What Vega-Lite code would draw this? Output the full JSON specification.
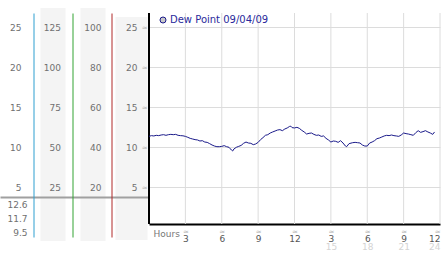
{
  "$schema": "https://vega.github.io/schema/vega-lite/v6.json",
  "width": 291,
  "height": 224,
  "autosize": {"type": "none"},
  "padding": {"left": 149, "top": 13, "right": 2, "bottom": 16},
  "background": "white",
  "datasets": {
    "dew": [
      {"h":0.0,"v":11.33},{"h":0.2,"v":11.42},{"h":0.4,"v":11.38},{"h":0.6,"v":11.46},{"h":0.8,"v":11.42},
      {"h":1.0,"v":11.5},{"h":1.2,"v":11.54},{"h":1.4,"v":11.46},{"h":1.6,"v":11.54},{"h":1.8,"v":11.58},
      {"h":2.0,"v":11.54},{"h":2.2,"v":11.58},{"h":2.4,"v":11.46},{"h":2.6,"v":11.42},{"h":2.8,"v":11.4},
      {"h":3.0,"v":11.33},{"h":3.2,"v":11.21},{"h":3.4,"v":11.08},{"h":3.6,"v":11.0},{"h":3.8,"v":10.92},
      {"h":4.0,"v":10.88},{"h":4.2,"v":10.75},{"h":4.4,"v":10.79},{"h":4.6,"v":10.62},{"h":4.8,"v":10.58},
      {"h":5.0,"v":10.42},{"h":5.2,"v":10.25},{"h":5.4,"v":10.12},{"h":5.6,"v":10.04},{"h":5.8,"v":10.04},
      {"h":6.0,"v":10.08},{"h":6.2,"v":10.17},{"h":6.4,"v":10.04},{"h":6.6,"v":9.96},{"h":6.8,"v":9.62},
      {"h":6.9,"v":9.5},{"h":7.0,"v":9.75},{"h":7.2,"v":9.96},{"h":7.4,"v":10.08},{"h":7.6,"v":10.2},
      {"h":7.8,"v":10.46},{"h":8.0,"v":10.62},{"h":8.2,"v":10.5},{"h":8.4,"v":10.46},{"h":8.6,"v":10.29},
      {"h":8.8,"v":10.38},{"h":9.0,"v":10.58},{"h":9.2,"v":10.92},{"h":9.4,"v":11.17},{"h":9.6,"v":11.46},
      {"h":9.8,"v":11.54},{"h":10.0,"v":11.75},{"h":10.2,"v":11.88},{"h":10.4,"v":12.0},{"h":10.6,"v":12.12},
      {"h":10.8,"v":12.17},{"h":11.0,"v":12.04},{"h":11.2,"v":12.25},{"h":11.4,"v":12.38},{"h":11.6,"v":12.58},
      {"h":11.7,"v":12.6},{"h":11.8,"v":12.42},{"h":12.0,"v":12.38},{"h":12.2,"v":12.46},{"h":12.4,"v":12.33},
      {"h":12.6,"v":12.08},{"h":12.8,"v":11.88},{"h":13.0,"v":11.62},{"h":13.2,"v":11.71},{"h":13.4,"v":11.75},
      {"h":13.6,"v":11.58},{"h":13.8,"v":11.46},{"h":14.0,"v":11.5},{"h":14.2,"v":11.33},{"h":14.4,"v":11.38},
      {"h":14.6,"v":11.08},{"h":14.8,"v":10.88},{"h":15.0,"v":10.62},{"h":15.2,"v":10.75},{"h":15.4,"v":10.71},
      {"h":15.6,"v":10.58},{"h":15.8,"v":10.79},{"h":16.0,"v":10.5},{"h":16.2,"v":10.12},{"h":16.3,"v":10.04},
      {"h":16.5,"v":10.42},{"h":16.8,"v":10.54},{"h":17.0,"v":10.58},{"h":17.2,"v":10.54},{"h":17.4,"v":10.5},
      {"h":17.6,"v":10.25},{"h":17.8,"v":10.12},{"h":18.0,"v":10.12},{"h":18.2,"v":10.5},{"h":18.4,"v":10.62},
      {"h":18.6,"v":10.79},{"h":18.8,"v":11.04},{"h":19.0,"v":11.12},{"h":19.2,"v":11.25},{"h":19.4,"v":11.38},
      {"h":19.6,"v":11.46},{"h":19.8,"v":11.42},{"h":20.0,"v":11.5},{"h":20.2,"v":11.42},{"h":20.4,"v":11.38},
      {"h":20.6,"v":11.33},{"h":20.8,"v":11.5},{"h":21.0,"v":11.75},{"h":21.2,"v":11.67},{"h":21.4,"v":11.62},
      {"h":21.6,"v":11.54},{"h":21.8,"v":11.46},{"h":22.0,"v":11.79},{"h":22.2,"v":12.04},{"h":22.4,"v":11.83},
      {"h":22.6,"v":11.92},{"h":22.8,"v":12.04},{"h":23.0,"v":11.88},{"h":23.2,"v":11.75},{"h":23.4,"v":11.58},
      {"h":23.55,"v":11.88}
    ],
    "grid": [{"h":3},{"h":6},{"h":9},{"h":12},{"h":15},{"h":18},{"h":21},{"h":24}]
  },
  "config": {
    "view": {"stroke": null},
    "axis": {"labelOverlap": false, "labelFont": "DejaVu Sans", "labelFontSize": 9, "labelColor": "#707070", "titleFont": "DejaVu Sans"},
    "legend": {
      "orient": "none", "legendX": 9, "legendY": 2, "padding": 0,
      "symbolType": "circle", "symbolSize": 36, "labelOffset": 2,
      "labelFont": "DejaVu Sans", "labelFontSize": 10, "labelColor": "#2a2a9c",
      "symbolFillColor": "#c8c8c8", "symbolStrokeColor": "#999999", "symbolStrokeWidth": 1
    }
  },
  "resolve": {"axis": {"x": "independent", "y": "independent"}},
  "layer": [
    {
      "data": {"name": "dew"},
      "mark": {"type": "point", "opacity": 0},
      "encoding": {
        "y": {"field": "v", "type": "quantitative", "scale": {"domain": [-1.25, 26.75], "nice": false, "zero": false},
          "axis": {"orient": "left", "offset": 84, "values": [12.9375], "title": null, "labels": false, "domain": false, "grid": false, "ticks": true, "tickSize": 25, "tickWidth": 233, "tickColor": "#f4f4f4"}}
      }
    },
    {
      "data": {"name": "dew"},
      "mark": {"type": "point", "opacity": 0},
      "encoding": {
        "y": {"field": "v", "type": "quantitative", "scale": {"domain": [-1.25, 26.75], "nice": false, "zero": false},
          "axis": {"orient": "left", "offset": 44, "values": [12.9375], "title": null, "labels": false, "domain": false, "grid": false, "ticks": true, "tickSize": 25, "tickWidth": 233, "tickColor": "#f4f4f4"}}
      }
    },
    {
      "data": {"name": "dew"},
      "mark": {"type": "point", "opacity": 0},
      "encoding": {
        "y": {"field": "v", "type": "quantitative", "scale": {"domain": [-1.25, 26.75], "nice": false, "zero": false},
          "axis": {"orient": "left", "offset": 2, "values": [12.4375], "title": null, "labels": false, "domain": false, "grid": false, "ticks": true, "tickSize": 32, "tickWidth": 223, "tickColor": "#f4f4f4"}}
      }
    },
    {
      "data": {"name": "dew"},
      "mark": {"type": "point", "opacity": 0},
      "encoding": {
        "y": {"field": "v", "type": "quantitative", "scale": {"domain": [-1.25, 26.75], "nice": false, "zero": false},
          "axis": {"orient": "left", "offset": 0, "values": [3.75], "title": null, "labels": false, "domain": false, "grid": false, "ticks": true, "tickSize": 149, "tickWidth": 2, "tickColor": "#a0a0a0"}}
      }
    },
    {
      "data": {"name": "dew"},
      "mark": {"type": "point", "opacity": 0},
      "encoding": {
        "y": {"field": "v", "type": "quantitative", "scale": {"domain": [-1.25, 26.75], "nice": false, "zero": false},
          "axis": {"orient": "left", "offset": 115.5, "values": [5, 10, 15, 20, 25], "title": null, "grid": false, "ticks": false, "domainColor": "#2f9fd0", "domainWidth": 1, "labelPadding": 12.5}}
      }
    },
    {
      "data": {"name": "dew"},
      "mark": {"type": "point", "opacity": 0},
      "encoding": {
        "y": {"field": "v", "type": "quantitative", "scale": {"domain": [-1.25, 26.75], "nice": false, "zero": false},
          "axis": {"orient": "left", "offset": 76.5, "values": [5, 10, 15, 20, 25], "labelExpr": "datum.value * 5", "title": null, "grid": false, "ticks": false, "domainColor": "#33a333", "domainWidth": 1, "labelPadding": 12}}
      }
    },
    {
      "data": {"name": "dew"},
      "mark": {"type": "point", "opacity": 0},
      "encoding": {
        "y": {"field": "v", "type": "quantitative", "scale": {"domain": [-1.25, 26.75], "nice": false, "zero": false},
          "axis": {"orient": "left", "offset": 37.5, "values": [5, 10, 15, 20, 25], "labelExpr": "datum.value * 4", "title": null, "grid": false, "ticks": false, "domainColor": "#b02828", "domainWidth": 1, "labelPadding": 10.5}}
      }
    },
    {
      "data": {"name": "dew"},
      "mark": {"type": "point", "opacity": 0},
      "encoding": {
        "y": {"field": "v", "type": "quantitative", "scale": {"domain": [-1.25, 26.75], "nice": false, "zero": false},
          "axis": {"orient": "left", "offset": 116, "values": [2.875, 1.125, -0.625], "labelExpr": "datum.value > 2 ? '12.6' : datum.value > 0 ? '11.7' : '9.5'", "title": null, "grid": false, "ticks": false, "domain": false, "labelPadding": 6}}
      }
    },
    {
      "data": {"name": "dew"},
      "mark": {"type": "point", "opacity": 0},
      "encoding": {
        "x": {"field": "h", "type": "quantitative", "scale": {"domain": [0, 24], "nice": false, "zero": false},
          "axis": {"orient": "bottom", "offset": -13, "values": [3, 6, 9, 12, 15, 18, 21, 24], "labelExpr": "'≈'", "title": null, "grid": false, "ticks": false, "domain": false, "labelFontSize": 7, "labelColor": "#b4b4b4", "labelPadding": 3.5, "labelFlush": true}},
        "y": {"field": "v", "type": "quantitative", "scale": {"domain": [-1.25, 26.75], "nice": false, "zero": false},
          "axis": {"orient": "left", "offset": 0, "values": [5, 10, 15, 20, 25], "labelExpr": "'≈'", "title": null, "grid": false, "ticks": false, "domain": false, "labelFontSize": 7, "labelColor": "#b4b4b4", "labelPadding": 2}}
      }
    },
    {
      "data": {"name": "grid"},
      "mark": {"type": "rule", "color": "#dcdcdc", "strokeWidth": 1},
      "encoding": {
        "x": {"field": "h", "type": "quantitative", "scale": {"domain": [0, 24], "nice": false, "zero": false},
          "axis": {"orient": "bottom", "offset": -13, "values": [15, 18, 21, 24], "title": null, "grid": false, "ticks": false, "domain": false, "labelColor": "#d4d4d4", "labelPadding": 18.5, "labelFlush": true}},
        "y": {"datum": 0.375, "type": "quantitative", "scale": {"domain": [-1.25, 26.75], "nice": false, "zero": false}, "axis": null},
        "y2": {"datum": 26.75}
      }
    },
    {
      "data": {"values": [{}]},
      "mark": {"type": "rule", "color": "#000000", "strokeWidth": 2},
      "encoding": {
        "x": {"datum": 0, "type": "quantitative", "scale": {"domain": [0, 24], "nice": false, "zero": false}, "axis": null},
        "y": {"datum": 0.375, "type": "quantitative", "scale": {"domain": [-1.25, 26.75], "nice": false, "zero": false}, "axis": null},
        "y2": {"datum": 26.75}
      }
    },
    {
      "data": {"name": "dew"},
      "mark": {"type": "line", "strokeWidth": 1, "interpolate": "linear"},
      "encoding": {
        "x": {"field": "h", "type": "quantitative", "scale": {"domain": [0, 24], "nice": false, "zero": false},
          "axis": {"orient": "bottom", "offset": -13, "values": [3, 6, 9, 12, 15, 18, 21, 24], "labelExpr": "datum.value > 12 ? datum.value - 12 : datum.value", "grid": false, "ticks": false, "domainColor": "#000000", "domainWidth": 2, "labelColor": "#555555", "labelPadding": 10.5, "labelFlush": true,
            "title": "Hours", "titleFontSize": 9, "titleFontWeight": "normal", "titleColor": "#777777", "titleAnchor": "start", "titleAlign": "left", "titleBaseline": "top", "titleX": 4, "titleY": 5}},
        "y": {"field": "v", "type": "quantitative", "scale": {"domain": [-1.25, 26.75], "nice": false, "zero": false},
          "axis": {"orient": "left", "offset": 0, "values": [5, 10, 15, 20, 25], "title": null, "grid": true, "gridColor": "#dcdcdc", "ticks": false, "domain": false, "labelPadding": 12}},
        "color": {"datum": "Dew Point 09/04/09", "type": "nominal", "scale": {"range": ["#1a1a8a"]},
          "legend": {"title": null, "encode": {"symbols": {"update": {"fill": {"value": "#c8c8c8"}, "stroke": {"value": "#999999"}, "strokeWidth": {"value": 1}, "shape": {"value": "circle"}, "opacity": {"value": 1}}}}}}
      }
    }
  ]
}
